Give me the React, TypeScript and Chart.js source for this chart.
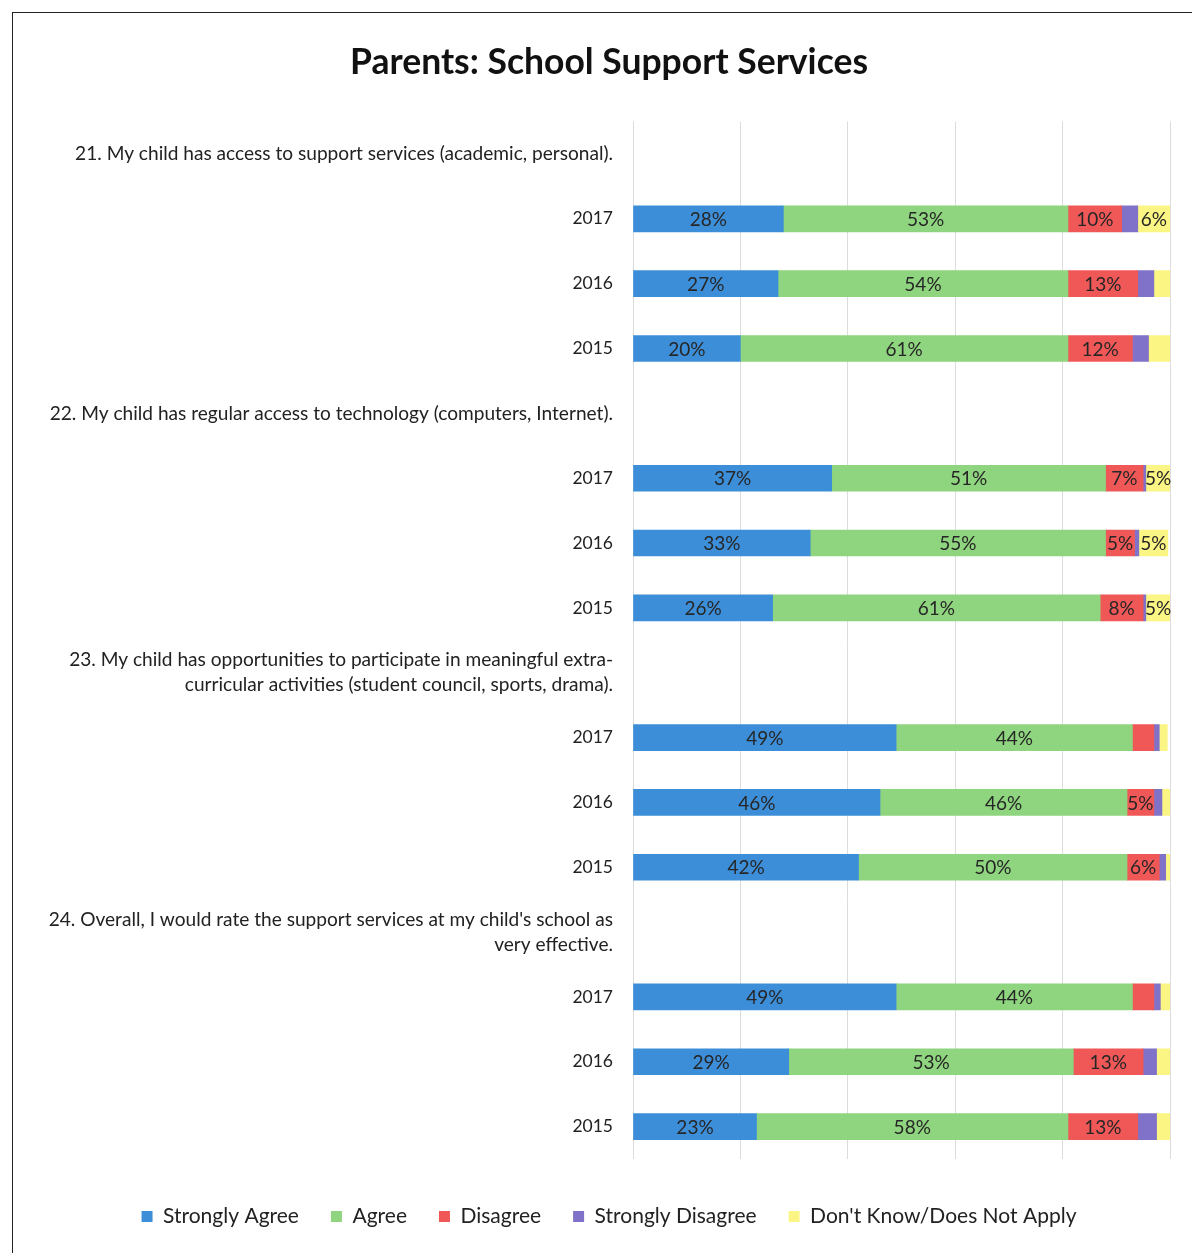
import React, { useEffect, useRef } from "react";
import { Chart, registerables } from "chart.js";

Chart.register(...registerables);

const questions: (string | string[])[] = [
  "21. My child has access to support services (academic, personal).",
  "22. My child has regular access to technology (computers, Internet).",
  ["23. My child has opportunities to participate in meaningful extra-", "curricular activities (student council, sports, drama)."],
  ["24. Overall, I would rate the support services at my child's school as", "very effective."],
];
const years = ["2017", "2016", "2015"];

const seriesNames = ["Strongly Agree", "Agree", "Disagree", "Strongly Disagree", "Don't Know/Does Not Apply"];
const seriesColors = ["#3d8ed8", "#8fd47e", "#f05858", "#7f72c8", "#fbf584"];

// values per question x year (2017, 2016, 2015)
const stronglyAgree = [28, 27, 20, 37, 33, 26, 49, 46, 42, 49, 29, 23];
const agree = [53, 54, 61, 51, 55, 61, 44, 46, 50, 44, 53, 58];
const disagree = [10, 13, 12, 7, 5.4, 8, 4, 5, 6, 4, 13, 13];
const stronglyDisagree = [3, 3, 3, 0.5, 0.8, 0.5, 1, 1.5, 1.2, 1.2, 2.5, 3.5];
const dontKnow = [6, 3, 4, 4.6, 5.4, 4.6, 1.5, 1.5, 0.8, 1.8, 2.5, 2.5];

const xTicks = [0, 20, 40, 60, 80, 100];

const FONT = "Lato, 'Open Sans', sans-serif";

function buildLabels() {
  const out: (string | string[])[] = [];
  questions.forEach((q) => {
    out.push(q);
    years.forEach((y) => out.push(y));
  });
  return out;
}

function expand(values: number[]) {
  const out: (number | null)[] = [];
  questions.forEach((_, qi) => {
    out.push(null);
    years.forEach((_, yi) => out.push(values[qi * years.length + yi]));
  });
  return out;
}

const valueLabelPlugin = {
  id: "valueLabels",
  afterDatasetsDraw(chart: any) {
    const ctx = chart.ctx;
    ctx.save();
    ctx.font = `19px ${FONT}`;
    ctx.fillStyle = "#262626";
    ctx.textAlign = "center";
    ctx.textBaseline = "middle";
    chart.data.datasets.forEach((ds: any, i: number) => {
      const meta = chart.getDatasetMeta(i);
      meta.data.forEach((bar: any, j: number) => {
        const v = ds.data[j];
        if (v == null || Math.round(v) < 5) return;
        const p = bar.getProps(["x", "y", "base"], true);
        ctx.fillText(`${Math.round(v)}%`, (p.x + p.base) / 2, p.y + 1);
      });
    });
    ctx.restore();
  },
};

export default function App() {
  const ref = useRef<HTMLCanvasElement>(null);
  useEffect(() => {
    if (!ref.current) return;
    const allSeries = [stronglyAgree, agree, disagree, stronglyDisagree, dontKnow];
    const chart = new Chart(ref.current, {
      type: "bar",
      data: {
        labels: buildLabels(),
        datasets: allSeries.map((vals, i) => ({
          label: seriesNames[i],
          data: expand(vals),
          backgroundColor: seriesColors[i],
          borderWidth: 0,
          barThickness: 26,
        })),
      },
      options: {
        indexAxis: "y",
        responsive: false,
        animation: false,
        devicePixelRatio: 1,
        layout: { padding: { left: 35, right: 22, top: 0, bottom: 16 } },
        scales: {
          x: {
            stacked: true,
            min: 0,
            max: 100,
            afterBuildTicks: (scale: any) => {
              scale.ticks = xTicks.map((v) => ({ value: v }));
            },
            afterFit: (scale: any) => {
              scale.height = 15;
            },
            ticks: { display: false },
            grid: { color: "#dcdcdc", lineWidth: 1, drawTicks: false },
            border: { display: false },
          },
          y: {
            stacked: true,
            afterFit: (scale: any) => {
              scale.width = 585;
            },
            grid: { display: false, drawTicks: false },
            border: { display: false },
            ticks: {
              padding: 20,
              color: "#222",
              font: (ctx: any) => ({
                family: FONT,
                size: ctx.index % 4 === 0 ? 19.1 : 17.5,
                lineHeight: ctx.index % 4 === 0 ? 1.32 : 1.2,
              }),
              autoSkip: false,
            },
          },
        },
        plugins: {
          title: {
            display: true,
            text: "Parents: School Support Services",
            color: "#111",
            font: { family: FONT, size: 35.5, weight: "bold" },
            padding: { top: 28, bottom: 38 },
          },
          legend: {
            position: "bottom",
            labels: {
              boxWidth: 11,
              boxHeight: 11,
              padding: 32,
              color: "#222",
              font: { family: FONT, size: 21 },
            },
          },
          tooltip: { enabled: false },
        },
      },
      plugins: [valueLabelPlugin],
    });
    return () => chart.destroy();
  }, []);
  return (
    <div
      style={{
        position: "absolute",
        left: 12,
        top: 12,
        width: 1179,
        height: 1240,
        borderTop: "1px solid #222",
        borderLeft: "1px solid #222",
        background: "#fff",
      }}
    >
      <canvas ref={ref} width={1179} height={1240} style={{ display: "block" }} />
    </div>
  );
}
